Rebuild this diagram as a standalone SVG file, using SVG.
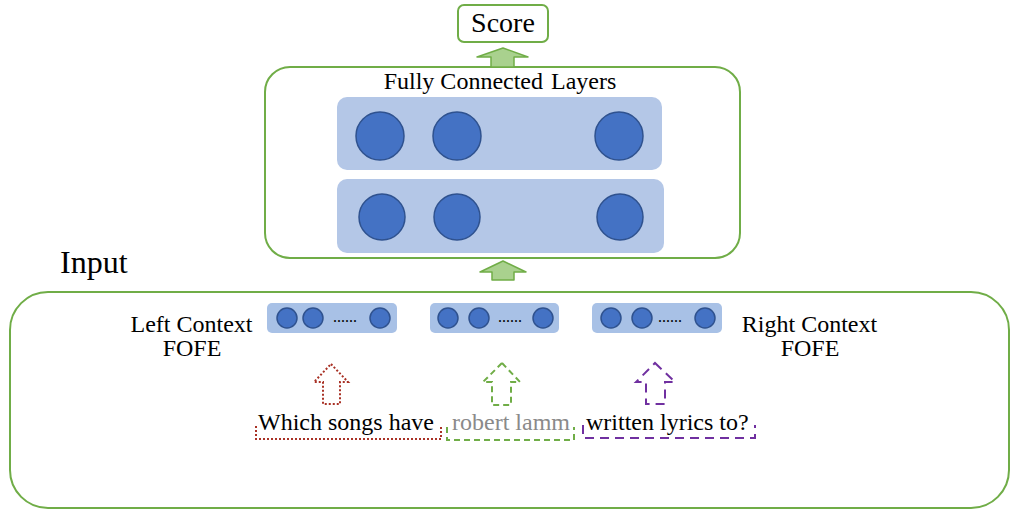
<svg xmlns="http://www.w3.org/2000/svg" width="1011" height="510" viewBox="0 0 1011 510">
<style>
text{font-family:"Liberation Serif","Times New Roman",serif;fill:#000}
.box{fill:#fff;stroke:#70ad47;stroke-width:2}
.layer{fill:#b4c7e7}
.vec{fill:#a8c1e6}
.n{fill:#4472c4;stroke:#2f528f;stroke-width:1.5}
.up{fill:#a9d18e;stroke:#70ad47;stroke-width:1.5;stroke-linejoin:round}
.t24{font-size:24px}
.dots{font-size:16px}
</style>
<rect width="1011" height="510" fill="#fff"/>
<g id="input">
<rect class="box" x="10" y="292" width="999" height="216" rx="38"/>
<text x="60" y="273" font-size="32">Input</text>
</g>
<g id="fc">
<rect class="box" x="265" y="67" width="475" height="191" rx="25"/>
<text x="500" y="89" class="t24" text-anchor="middle">Fully Connected<tspan dx="8">Layers</tspan></text>
</g>
<g id="layer1">
<rect class="layer" x="337" y="97" width="325" height="73" rx="10"/>
<circle class="n" cx="380" cy="136" r="24"/>
<circle class="n" cx="457" cy="136" r="24"/>
<circle class="n" cx="619" cy="136" r="24"/>
</g>
<g id="layer2">
<rect class="layer" x="337" y="179" width="327" height="74" rx="10"/>
<circle class="n" cx="382" cy="217" r="23"/>
<circle class="n" cx="457" cy="217" r="23"/>
<circle class="n" cx="620" cy="217" r="23"/>
</g>
<g id="score">
<rect class="box" x="458" y="5" width="90" height="37" rx="6"/>
<text x="503" y="32" font-size="28" text-anchor="middle">Score</text>
</g>
<g id="left-fofe">
<rect class="vec" x="267" y="303" width="130" height="30" rx="5"/>
<circle class="n" cx="287" cy="318" r="10"/>
<circle class="n" cx="313" cy="318" r="10"/>
<text x="345" y="322" class="dots" text-anchor="middle">......</text>
<circle class="n" cx="380" cy="318" r="10"/>
<text x="191.5" y="332" class="t24" text-anchor="middle">Left Context</text>
<text x="192" y="356" class="t24" text-anchor="middle">FOFE</text>
</g>
<g id="mid-fofe">
<rect class="vec" x="430" y="303" width="129" height="30" rx="5"/>
<circle class="n" cx="448" cy="318" r="10"/>
<circle class="n" cx="479" cy="318" r="10"/>
<text x="510" y="322" class="dots" text-anchor="middle">......</text>
<circle class="n" cx="543" cy="318" r="10"/>
</g>
<g id="right-fofe">
<rect class="vec" x="592" y="303" width="130" height="30" rx="5"/>
<circle class="n" cx="611" cy="318" r="10"/>
<circle class="n" cx="642" cy="318" r="10"/>
<text x="670" y="322" class="dots" text-anchor="middle">......</text>
<circle class="n" cx="705" cy="318" r="10"/>
<text x="809.5" y="332" class="t24" text-anchor="middle">Right Context</text>
<text x="810" y="356" class="t24" text-anchor="middle">FOFE</text>
</g>
<g id="left-words">
<text x="258" y="430" class="t24">Which songs have</text>
<path d="M256,426 V439 H441 V427" fill="none" stroke="#a93226" stroke-width="2" stroke-dasharray="2 2"/>
</g>
<g id="entity-words">
<text x="452" y="430" class="t24" style="fill:#8a8a8a">robert lamm</text>
<path d="M447,427 V440 H574 V427" fill="none" stroke="#70ad47" stroke-width="2" stroke-dasharray="6 4"/>
</g>
<g id="right-words">
<text x="586" y="430" class="t24">written lyrics to?</text>
<path d="M583,425 V438 H755 V425" fill="none" stroke="#7030a0" stroke-width="2" stroke-dasharray="9 6"/>
</g>
<g id="connectors">
<polygon class="up" points="503,48 528,57 514,57 514,67 491,67 491,57 477,57"/>
<polygon class="up" points="503,261 526,272 514,272 514,280 492,280 492,272 480,272"/>
<polygon points="331,364 348,382 340,382 340,404 323,404 323,382 314,382" fill="none" stroke="#a93226" stroke-width="2" stroke-dasharray="2 2"/>
<polygon points="502,363 520,382 511,382 511,405 492,405 492,382 483,382" fill="none" stroke="#70ad47" stroke-width="2" stroke-dasharray="6 4"/>
<polygon points="655,363 675,382 665,382 665,404 646,404 646,382 636,382" fill="none" stroke="#7030a0" stroke-width="2" stroke-dasharray="9 6"/>
</g>
</svg>
